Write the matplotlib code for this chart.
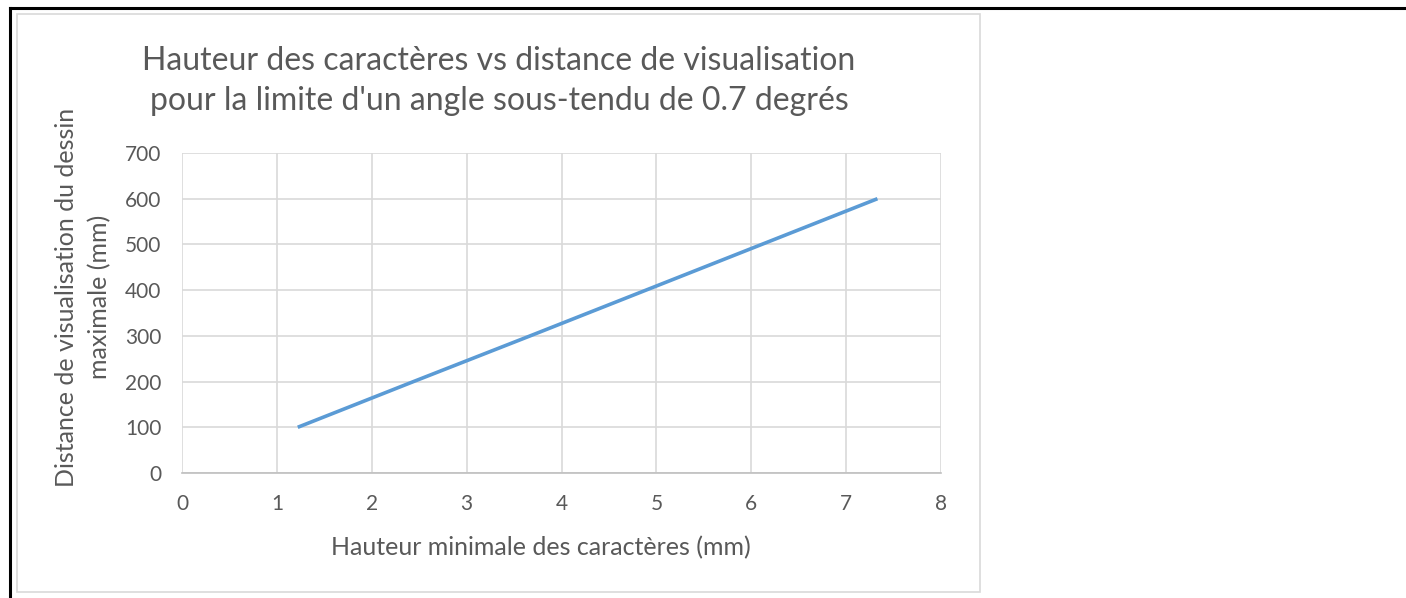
import matplotlib
matplotlib.use("Agg")
import matplotlib.pyplot as plt
from matplotlib.patches import Rectangle
from matplotlib.lines import Line2D

# Data
char_height_mm = [1.22, 2.44, 3.67, 4.89, 6.11, 7.33]
view_distance_mm = [100, 200, 300, 400, 500, 600]
x_ticks = [0, 1, 2, 3, 4, 5, 6, 7, 8]
y_ticks = [0, 100, 200, 300, 400, 500, 600, 700]

title = "Hauteur des caractères vs distance de visualisation\npour la limite d'un angle sous-tendu de 0.7 degrés"
xlabel = "Hauteur minimale des caractères (mm)"
ylabel = "Distance de visualisation du dessin\nmaximale (mm)"

W, H = 1406, 598
fig = plt.figure(figsize=(W / 100, H / 100), dpi=100)
plt.rcParams['font.family'] = ['Lato', 'DejaVu Sans']

def px(x, y):
    return x / W, 1 - y / H

# outer black frame: top and left edges only
fig.add_artist(Line2D([10 / W, 1.0], [1 - 7.5 / H, 1 - 7.5 / H],
                      transform=fig.transFigure, color='black', linewidth=2.2))
fig.add_artist(Line2D([10 / W, 10 / W], [0.0, 1 - 7.5 / H],
                      transform=fig.transFigure, color='black', linewidth=2.2))
# chart area frame
fig.patches.append(Rectangle((17 / W, 1 - 592 / H), 963 / W, 578 / H,
                             transform=fig.transFigure, fill=False,
                             edgecolor='#d9d9d9', linewidth=1.2))

left, right, top, bottom = 182, 941, 153, 473
ax = fig.add_axes([left / W, 1 - bottom / H, (right - left) / W, (bottom - top) / H])
ax.plot(char_height_mm, view_distance_mm, color='#5b9bd5', linewidth=2.6,
        solid_capstyle='butt')
ax.set_xlim(0, 8)
ax.set_ylim(0, 700)
ax.set_xticks(x_ticks)
ax.set_yticks(y_ticks)
ax.grid(True, color='#d9d9d9', linewidth=1.2)
ax.set_axisbelow(True)
for s in ['top', 'right', 'left']:
    ax.spines[s].set_visible(False)
ax.spines['bottom'].set_color('#bfbfbf')
ax.spines['bottom'].set_linewidth(1.2)
ax.tick_params(length=0, labelsize=15, labelcolor='#595959')
ax.tick_params(axis='y', pad=15)
ax.tick_params(axis='x', pad=15)

fig.text(*px(499, 81), title, ha='center', va='center', fontsize=23,
         color='#595959', linespacing=1.45, multialignment='center')
fig.text(*px(541, 548), xlabel, ha='center', va='center', fontsize=18,
         color='#595959')
fig.text(*px(83, 297), ylabel, ha='center', va='center', fontsize=18,
         color='#595959', rotation=90, linespacing=1.55, multialignment='center')

fig.savefig("out.png", dpi=100, facecolor='white')
